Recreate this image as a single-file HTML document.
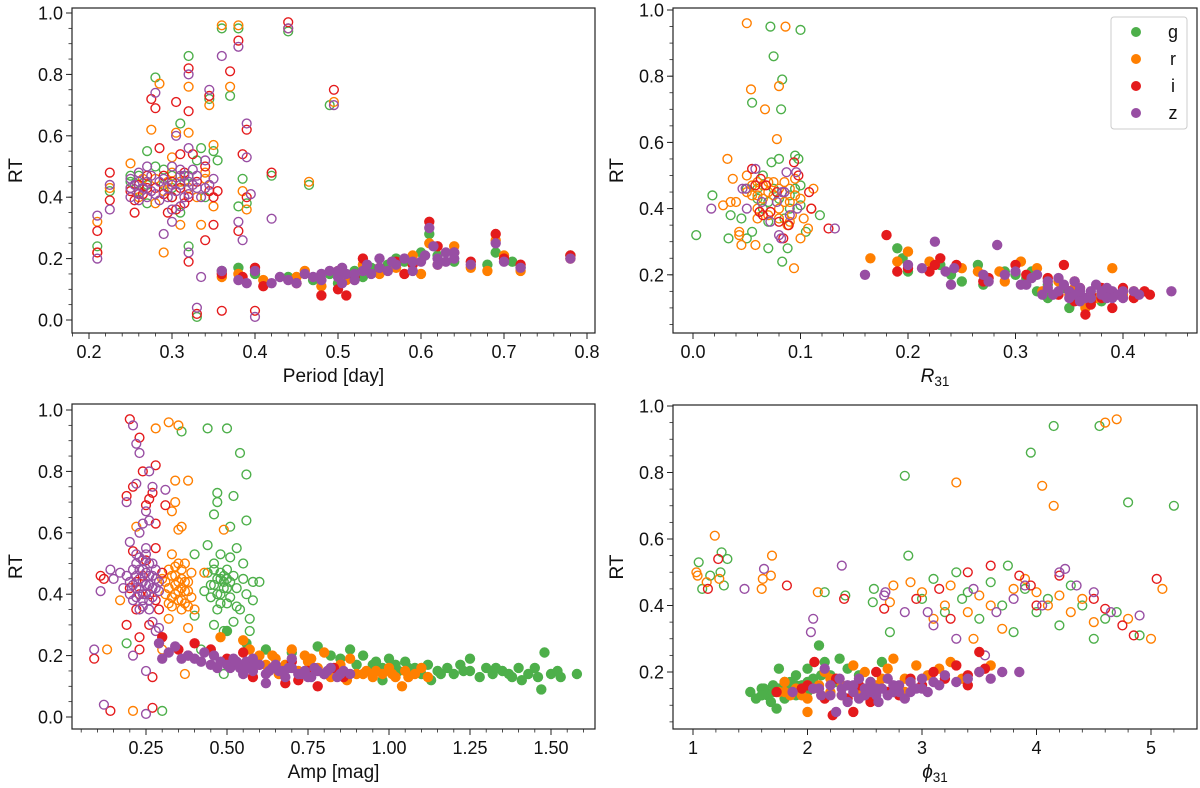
<!DOCTYPE html>
<html><head><meta charset="utf-8"><style>
html,body{margin:0;padding:0;background:#fff;}
svg{display:block;font-family:"Liberation Sans","DejaVu Sans",sans-serif;}
</style></head><body>
<svg id="fig" width="1200" height="788" viewBox="0 0 1200 788" xmlns="http://www.w3.org/2000/svg"></svg>
<script>
const bands=['g','r','i','z'];
const bandColors=['#4daf4a','#ff7f00','#e41a1c','#984ea3'];
// Panel A: Period vs RT  [x,y] pairs
const A_open_g=[[0.21,0.24],[0.225,0.42],[0.25,0.45],[0.26,0.42],[0.27,0.55],[0.28,0.79],[0.28,0.5],[0.29,0.44],[0.30,0.47],[0.31,0.64],[0.32,0.86],[0.32,0.24],[0.33,0.52],[0.335,0.56],[0.345,0.72],[0.36,0.95],[0.37,0.73],[0.38,0.95],[0.38,0.37],[0.385,0.46],[0.39,0.38],[0.42,0.47],[0.44,0.94],[0.27,0.38],[0.30,0.40],[0.315,0.45],[0.33,0.01],[0.49,0.70],[0.465,0.44],[0.26,0.47],[0.35,0.55],[0.31,0.35],[0.25,0.47],[0.27,0.44],[0.29,0.49],[0.30,0.43],[0.32,0.47],[0.34,0.40],[0.355,0.52]];
const A_open_r=[[0.21,0.32],[0.21,0.22],[0.225,0.43],[0.25,0.51],[0.26,0.40],[0.275,0.62],[0.285,0.77],[0.29,0.22],[0.295,0.45],[0.305,0.61],[0.32,0.61],[0.32,0.76],[0.345,0.70],[0.35,0.57],[0.36,0.96],[0.37,0.76],[0.38,0.96],[0.385,0.42],[0.39,0.36],[0.44,0.95],[0.27,0.45],[0.31,0.31],[0.335,0.31],[0.465,0.45],[0.30,0.48],[0.34,0.48],[0.495,0.71],[0.28,0.38],[0.25,0.43],[0.265,0.46],[0.28,0.46],[0.29,0.42],[0.31,0.45],[0.32,0.43],[0.33,0.40],[0.34,0.46],[0.35,0.37],[0.30,0.53]];
const A_open_i=[[0.21,0.29],[0.21,0.22],[0.225,0.48],[0.225,0.39],[0.255,0.35],[0.275,0.72],[0.28,0.69],[0.285,0.56],[0.295,0.35],[0.305,0.71],[0.31,0.54],[0.32,0.68],[0.32,0.82],[0.32,0.19],[0.325,0.54],[0.34,0.26],[0.345,0.73],[0.35,0.31],[0.355,0.42],[0.36,0.03],[0.37,0.81],[0.38,0.91],[0.385,0.54],[0.39,0.62],[0.39,0.40],[0.38,0.29],[0.33,0.02],[0.40,0.03],[0.42,0.48],[0.44,0.97],[0.495,0.75],[0.27,0.43],[0.30,0.40],[0.315,0.38],[0.265,0.41],[0.29,0.47],[0.25,0.42],[0.26,0.44],[0.27,0.47],[0.28,0.43],[0.29,0.41],[0.30,0.45],[0.31,0.43],[0.315,0.48],[0.32,0.40],[0.33,0.45],[0.34,0.50],[0.345,0.42],[0.255,0.39],[0.305,0.36],[0.35,0.40]];
const A_open_z=[[0.21,0.34],[0.21,0.20],[0.225,0.44],[0.225,0.36],[0.25,0.46],[0.26,0.41],[0.27,0.50],[0.28,0.74],[0.285,0.45],[0.29,0.28],[0.30,0.32],[0.305,0.60],[0.31,0.47],[0.32,0.80],[0.32,0.56],[0.32,0.22],[0.33,0.04],[0.335,0.14],[0.345,0.75],[0.345,0.44],[0.36,0.86],[0.38,0.89],[0.38,0.32],[0.385,0.26],[0.39,0.64],[0.39,0.53],[0.395,0.41],[0.40,0.01],[0.42,0.33],[0.44,0.95],[0.495,0.70],[0.26,0.39],[0.275,0.42],[0.295,0.43],[0.31,0.44],[0.315,0.40],[0.325,0.49],[0.34,0.52],[0.35,0.46],[0.27,0.45],[0.30,0.50],[0.33,0.43],[0.25,0.40],[0.255,0.44],[0.26,0.45],[0.265,0.43],[0.27,0.40],[0.275,0.47],[0.28,0.41],[0.285,0.39],[0.29,0.46],[0.295,0.40],[0.30,0.44],[0.305,0.42],[0.31,0.49],[0.315,0.47],[0.32,0.45],[0.32,0.41],[0.325,0.44],[0.33,0.47],[0.335,0.40],[0.34,0.43],[0.25,0.43],[0.26,0.48],[0.30,0.36],[0.31,0.37]];
const A_fill_g=[[0.36,0.16],[0.38,0.17],[0.40,0.15],[0.44,0.14],[0.47,0.13],[0.49,0.15],[0.50,0.12],[0.52,0.16],[0.54,0.17],[0.56,0.18],[0.58,0.19],[0.60,0.22],[0.61,0.28],[0.62,0.21],[0.64,0.19],[0.68,0.18],[0.69,0.22],[0.71,0.19],[0.72,0.17],[0.78,0.21],[0.53,0.14],[0.57,0.20]];
const A_fill_r=[[0.36,0.14],[0.38,0.15],[0.41,0.13],[0.45,0.14],[0.48,0.11],[0.50,0.16],[0.51,0.13],[0.53,0.18],[0.55,0.15],[0.57,0.17],[0.59,0.21],[0.61,0.25],[0.62,0.18],[0.64,0.24],[0.66,0.17],[0.68,0.16],[0.69,0.26],[0.70,0.21],[0.72,0.16],[0.78,0.20],[0.60,0.15],[0.46,0.16]];
const A_fill_i=[[0.36,0.15],[0.385,0.14],[0.40,0.17],[0.41,0.11],[0.45,0.12],[0.48,0.08],[0.50,0.10],[0.51,0.08],[0.52,0.14],[0.55,0.17],[0.57,0.19],[0.59,0.18],[0.61,0.32],[0.62,0.24],[0.64,0.22],[0.66,0.19],[0.69,0.28],[0.70,0.20],[0.72,0.18],[0.78,0.21],[0.53,0.20],[0.58,0.15]];
const A_fill_z=[[0.36,0.16],[0.38,0.13],[0.39,0.12],[0.40,0.16],[0.42,0.12],[0.44,0.13],[0.46,0.15],[0.48,0.13],[0.49,0.16],[0.50,0.14],[0.51,0.15],[0.52,0.13],[0.53,0.16],[0.54,0.15],[0.55,0.17],[0.57,0.18],[0.58,0.20],[0.59,0.16],[0.60,0.19],[0.61,0.30],[0.62,0.20],[0.63,0.22],[0.64,0.20],[0.66,0.18],[0.69,0.25],[0.70,0.19],[0.72,0.17],[0.78,0.20],[0.47,0.14],[0.505,0.12],[0.43,0.14],[0.45,0.12],[0.48,0.15],[0.50,0.16],[0.52,0.15],[0.535,0.18],[0.56,0.16],[0.565,0.19],[0.59,0.19],[0.605,0.21],[0.615,0.24],[0.62,0.18],[0.63,0.19],[0.64,0.22],[0.505,0.17],[0.55,0.20]];
// Panel B: R31 vs RT
const B_open_g=[[0.003,0.32],[0.018,0.44],[0.033,0.31],[0.035,0.38],[0.045,0.37],[0.05,0.31],[0.055,0.72],[0.055,0.33],[0.07,0.28],[0.072,0.95],[0.075,0.86],[0.083,0.79],[0.082,0.70],[0.083,0.24],[0.088,0.28],[0.095,0.56],[0.098,0.55],[0.10,0.94],[0.10,0.47],[0.105,0.33],[0.118,0.38],[0.073,0.54],[0.065,0.50],[0.08,0.55],[0.06,0.43],[0.07,0.42],[0.09,0.44],[0.05,0.46],[0.06,0.46],[0.065,0.40],[0.075,0.46],[0.08,0.43],[0.085,0.37],[0.09,0.40],[0.095,0.46],[0.1,0.41],[0.07,0.36]];
const B_open_r=[[0.028,0.41],[0.032,0.55],[0.035,0.42],[0.037,0.49],[0.04,0.42],[0.043,0.33],[0.043,0.32],[0.045,0.29],[0.05,0.50],[0.05,0.96],[0.054,0.76],[0.058,0.29],[0.06,0.37],[0.067,0.70],[0.078,0.61],[0.08,0.77],[0.086,0.95],[0.088,0.35],[0.094,0.22],[0.095,0.49],[0.10,0.31],[0.103,0.37],[0.107,0.34],[0.112,0.46],[0.11,0.40],[0.065,0.47],[0.07,0.45],[0.075,0.48],[0.085,0.42],[0.09,0.46],[0.055,0.44],[0.06,0.48],[0.08,0.40],[0.092,0.38],[0.05,0.45],[0.055,0.47],[0.06,0.44],[0.065,0.43],[0.07,0.48],[0.075,0.44],[0.08,0.46],[0.085,0.48],[0.09,0.42],[0.095,0.44],[0.06,0.40],[0.07,0.38],[0.08,0.37],[0.09,0.36],[0.1,0.43]];
const B_open_i=[[0.055,0.52],[0.058,0.47],[0.062,0.39],[0.063,0.49],[0.065,0.38],[0.068,0.47],[0.072,0.39],[0.078,0.45],[0.08,0.36],[0.084,0.31],[0.089,0.35],[0.094,0.54],[0.098,0.50],[0.108,0.45],[0.11,0.40],[0.126,0.34]];
const B_open_z=[[0.017,0.40],[0.046,0.46],[0.049,0.46],[0.05,0.40],[0.058,0.52],[0.064,0.42],[0.072,0.36],[0.078,0.42],[0.08,0.32],[0.082,0.31],[0.085,0.45],[0.087,0.51],[0.09,0.38],[0.096,0.51],[0.097,0.40],[0.132,0.34],[0.083,0.45]];
const B_fill_g=[[0.19,0.28],[0.195,0.25],[0.2,0.21],[0.23,0.23],[0.24,0.20],[0.25,0.18],[0.265,0.23],[0.27,0.17],[0.29,0.21],[0.31,0.19],[0.315,0.21],[0.32,0.15],[0.33,0.17],[0.345,0.16],[0.35,0.10],[0.36,0.13],[0.37,0.14],[0.38,0.12],[0.33,0.13],[0.30,0.20]];
const B_fill_r=[[0.165,0.25],[0.19,0.24],[0.2,0.27],[0.22,0.24],[0.25,0.22],[0.265,0.21],[0.285,0.21],[0.29,0.18],[0.305,0.24],[0.32,0.22],[0.325,0.15],[0.34,0.18],[0.355,0.16],[0.365,0.10],[0.375,0.13],[0.385,0.15],[0.39,0.22],[0.40,0.14],[0.41,0.15],[0.35,0.14]];
const B_fill_i=[[0.18,0.32],[0.19,0.21],[0.2,0.22],[0.225,0.23],[0.22,0.21],[0.23,0.25],[0.245,0.23],[0.27,0.18],[0.275,0.19],[0.30,0.23],[0.31,0.20],[0.33,0.19],[0.345,0.23],[0.355,0.18],[0.36,0.14],[0.365,0.08],[0.37,0.12],[0.38,0.16],[0.39,0.10],[0.40,0.16],[0.41,0.13],[0.42,0.15],[0.425,0.14],[0.35,0.15],[0.34,0.14],[0.36,0.16],[0.37,0.14],[0.38,0.13],[0.39,0.14],[0.37,0.11],[0.355,0.12]];
const B_fill_z=[[0.16,0.20],[0.2,0.23],[0.213,0.22],[0.225,0.30],[0.235,0.21],[0.24,0.17],[0.243,0.22],[0.27,0.20],[0.275,0.18],[0.283,0.29],[0.29,0.20],[0.30,0.21],[0.305,0.17],[0.315,0.19],[0.32,0.20],[0.325,0.14],[0.33,0.18],[0.335,0.14],[0.34,0.19],[0.345,0.17],[0.35,0.15],[0.355,0.14],[0.36,0.16],[0.365,0.13],[0.37,0.15],[0.375,0.17],[0.38,0.14],[0.385,0.16],[0.39,0.15],[0.395,0.14],[0.40,0.13],[0.41,0.15],[0.415,0.14],[0.445,0.15],[0.355,0.18],[0.31,0.17],[0.33,0.16],[0.34,0.15],[0.35,0.13],[0.36,0.15],[0.37,0.13],[0.38,0.15],[0.39,0.13],[0.40,0.15],[0.36,0.12],[0.385,0.13]];
// Panel C: Amp vs RT
const C_open_g=[[0.19,0.24],[0.30,0.02],[0.36,0.93],[0.40,0.53],[0.40,0.33],[0.42,0.22],[0.44,0.94],[0.44,0.56],[0.45,0.43],[0.45,0.39],[0.46,0.30],[0.46,0.66],[0.47,0.73],[0.47,0.70],[0.48,0.53],[0.48,0.45],[0.48,0.40],[0.49,0.28],[0.49,0.14],[0.50,0.94],[0.50,0.48],[0.50,0.37],[0.51,0.62],[0.51,0.44],[0.52,0.31],[0.52,0.72],[0.53,0.55],[0.53,0.42],[0.54,0.86],[0.54,0.35],[0.55,0.50],[0.55,0.45],[0.56,0.79],[0.56,0.64],[0.56,0.40],[0.57,0.28],[0.57,0.32],[0.58,0.44],[0.58,0.38],[0.60,0.44],[0.44,0.47],[0.46,0.48],[0.47,0.35],[0.49,0.42],[0.51,0.52],[0.53,0.36],[0.43,0.41],[0.52,0.46],[0.46,0.43],[0.47,0.45],[0.48,0.47],[0.49,0.44],[0.50,0.42],[0.47,0.40],[0.48,0.37],[0.50,0.45],[0.46,0.50],[0.51,0.39],[0.49,0.46]];
const C_open_r=[[0.13,0.22],[0.17,0.38],[0.21,0.02],[0.22,0.62],[0.28,0.94],[0.30,0.22],[0.32,0.96],[0.33,0.67],[0.34,0.77],[0.34,0.70],[0.35,0.95],[0.35,0.61],[0.36,0.62],[0.37,0.14],[0.38,0.29],[0.38,0.77],[0.40,0.35],[0.43,0.47],[0.49,0.61],[0.30,0.45],[0.31,0.40],[0.32,0.48],[0.33,0.36],[0.34,0.43],[0.35,0.50],[0.35,0.38],[0.36,0.45],[0.37,0.41],[0.37,0.50],[0.38,0.44],[0.39,0.39],[0.39,0.47],[0.33,0.53],[0.36,0.35],[0.32,0.32],[0.34,0.46],[0.36,0.42],[0.38,0.36],[0.31,0.44],[0.32,0.42],[0.33,0.46],[0.34,0.40],[0.35,0.44],[0.36,0.48],[0.37,0.44],[0.38,0.41],[0.33,0.39],[0.35,0.41],[0.36,0.38],[0.37,0.37],[0.34,0.49],[0.32,0.37]];
const C_open_i=[[0.09,0.19],[0.11,0.46],[0.12,0.45],[0.14,0.02],[0.19,0.30],[0.19,0.72],[0.20,0.97],[0.21,0.75],[0.21,0.54],[0.22,0.35],[0.23,0.22],[0.23,0.91],[0.23,0.26],[0.24,0.80],[0.25,0.69],[0.26,0.71],[0.27,0.73],[0.27,0.13],[0.27,0.03],[0.28,0.63],[0.28,0.82],[0.28,0.55],[0.30,0.47],[0.31,0.69],[0.26,0.30],[0.20,0.42],[0.22,0.44],[0.24,0.46],[0.26,0.40],[0.28,0.38],[0.29,0.35],[0.25,0.51],[0.23,0.40]];
const C_open_z=[[0.09,0.22],[0.12,0.04],[0.11,0.41],[0.14,0.48],[0.15,0.45],[0.17,0.47],[0.18,0.42],[0.19,0.70],[0.20,0.57],[0.21,0.20],[0.21,0.95],[0.22,0.89],[0.22,0.76],[0.23,0.86],[0.23,0.60],[0.24,0.63],[0.25,0.67],[0.25,0.15],[0.25,0.01],[0.26,0.80],[0.26,0.64],[0.27,0.75],[0.27,0.31],[0.28,0.28],[0.29,0.29],[0.31,0.74],[0.20,0.44],[0.21,0.48],[0.22,0.42],[0.22,0.50],[0.23,0.45],[0.23,0.52],[0.24,0.40],[0.24,0.48],[0.25,0.43],[0.25,0.53],[0.26,0.46],[0.26,0.38],[0.27,0.50],[0.27,0.42],[0.28,0.45],[0.29,0.41],[0.24,0.36],[0.21,0.38],[0.19,0.46],[0.20,0.40],[0.21,0.43],[0.22,0.46],[0.22,0.39],[0.23,0.48],[0.23,0.42],[0.24,0.44],[0.24,0.51],[0.25,0.47],[0.25,0.40],[0.26,0.43],[0.26,0.50],[0.27,0.46],[0.27,0.39],[0.28,0.48],[0.28,0.42],[0.29,0.44],[0.24,0.38],[0.26,0.35],[0.23,0.35],[0.25,0.55],[0.22,0.53]];
const C_fill_g=[[0.50,0.28],[0.56,0.24],[0.62,0.22],[0.70,0.21],[0.78,0.23],[0.85,0.19],[0.88,0.22],[0.92,0.20],[0.95,0.17],[0.98,0.16],[1.00,0.19],[1.03,0.15],[1.05,0.18],[1.08,0.16],[1.10,0.14],[1.12,0.17],[1.15,0.15],[1.18,0.16],[1.20,0.14],[1.22,0.17],[1.25,0.15],[1.28,0.13],[1.30,0.16],[1.32,0.14],[1.35,0.15],[1.38,0.13],[1.40,0.16],[1.43,0.14],[1.45,0.16],[1.47,0.09],[1.48,0.21],[1.50,0.14],[1.52,0.15],[1.58,0.14],[1.13,0.12],[1.25,0.19],[1.41,0.12],[0.98,0.12],[0.90,0.17],[0.96,0.18],[1.06,0.16],[1.16,0.14],[1.23,0.15],[1.33,0.16],[1.37,0.14],[1.46,0.13],[1.53,0.13],[1.02,0.17],[0.82,0.20]];
const C_fill_r=[[0.48,0.26],[0.55,0.25],[0.60,0.20],[0.65,0.19],[0.70,0.22],[0.75,0.18],[0.80,0.21],[0.85,0.17],[0.88,0.19],[0.90,0.14],[0.93,0.15],[0.95,0.13],[0.98,0.14],[1.00,0.16],[1.02,0.13],[1.04,0.10],[1.05,0.15],[1.08,0.14],[1.10,0.16],[1.12,0.13],[0.78,0.16],[0.72,0.15],[0.82,0.13],[0.62,0.17],[0.87,0.12],[0.57,0.22],[0.64,0.20],[0.68,0.17],[0.76,0.19],[0.84,0.15],[0.92,0.14],[0.96,0.15],[1.01,0.14],[1.06,0.13],[0.66,0.14],[0.74,0.20]];
const C_fill_i=[[0.30,0.26],[0.35,0.22],[0.38,0.20],[0.40,0.24],[0.45,0.22],[0.50,0.19],[0.55,0.21],[0.60,0.17],[0.65,0.16],[0.68,0.11],[0.70,0.18],[0.75,0.15],[0.78,0.10],[0.80,0.14],[0.83,0.16],[0.86,0.13],[0.58,0.13],[0.72,0.12]];
const C_fill_z=[[0.29,0.24],[0.30,0.19],[0.34,0.23],[0.36,0.19],[0.40,0.19],[0.43,0.21],[0.46,0.20],[0.48,0.18],[0.50,0.17],[0.52,0.19],[0.54,0.16],[0.56,0.18],[0.58,0.15],[0.60,0.17],[0.62,0.14],[0.64,0.16],[0.66,0.15],[0.68,0.13],[0.70,0.16],[0.72,0.14],[0.74,0.15],[0.76,0.13],[0.78,0.15],[0.80,0.14],[0.82,0.16],[0.84,0.13],[0.86,0.15],[0.88,0.14],[0.62,0.11],[0.55,0.14],[0.45,0.17],[0.70,0.19],[0.32,0.21],[0.38,0.20],[0.42,0.18],[0.47,0.16],[0.51,0.16],[0.53,0.18],[0.57,0.16],[0.59,0.17],[0.63,0.15],[0.67,0.15],[0.69,0.16],[0.73,0.14],[0.77,0.16],[0.81,0.15],[0.85,0.14],[0.65,0.17],[0.75,0.13],[0.58,0.19]];
// Panel D: phi31 vs RT
const D_open_g=[[1.05,0.53],[1.08,0.45],[1.15,0.49],[1.25,0.56],[1.24,0.50],[1.30,0.54],[1.27,0.46],[2.15,0.44],[2.33,0.43],[2.58,0.45],[2.57,0.41],[2.72,0.32],[2.85,0.79],[2.88,0.55],[3.0,0.42],[3.1,0.48],[3.2,0.38],[3.3,0.50],[3.4,0.44],[3.5,0.36],[3.6,0.47],[3.7,0.40],[3.8,0.32],[3.9,0.45],[3.95,0.86],[4.0,0.38],[4.1,0.42],[4.15,0.94],[4.2,0.34],[4.3,0.46],[4.4,0.40],[4.5,0.30],[4.55,0.94],[4.6,0.36],[4.7,0.38],[4.8,0.71],[4.9,0.31],[5.2,0.70],[3.35,0.42],[3.75,0.52]];
const D_open_r=[[1.03,0.50],[1.04,0.49],[1.12,0.47],[1.19,0.61],[1.23,0.48],[1.60,0.45],[1.61,0.48],[1.69,0.55],[1.68,0.49],[2.09,0.44],[2.75,0.46],[2.72,0.41],[2.9,0.47],[3.0,0.44],[3.1,0.36],[3.2,0.40],[3.3,0.77],[3.4,0.38],[3.5,0.43],[3.6,0.40],[3.7,0.33],[3.8,0.45],[3.9,0.48],[4.0,0.44],[4.05,0.76],[4.1,0.40],[4.15,0.70],[4.2,0.43],[4.3,0.38],[4.5,0.35],[4.6,0.95],[4.7,0.96],[4.8,0.36],[5.0,0.30],[5.1,0.45],[4.4,0.42],[3.25,0.46],[3.45,0.30]];
const D_open_i=[[1.13,0.45],[1.22,0.54],[1.82,0.46],[2.32,0.42],[2.67,0.39],[2.95,0.42],[3.15,0.45],[3.4,0.50],[3.6,0.52],[3.85,0.49],[3.95,0.46],[4.2,0.49],[4.5,0.42],[4.6,0.39],[4.75,0.34],[4.85,0.31],[5.05,0.48],[3.25,0.36],[4.0,0.40]];
const D_open_z=[[1.45,0.45],[1.62,0.51],[2.03,0.32],[2.05,0.36],[2.30,0.52],[2.67,0.43],[2.68,0.44],[2.85,0.38],[3.05,0.38],[3.1,0.34],[3.3,0.30],[3.45,0.45],[3.65,0.38],[3.8,0.42],[3.9,0.46],[4.05,0.40],[4.2,0.50],[4.35,0.46],[4.5,0.44],[4.65,0.38],[4.9,0.37],[3.55,0.25],[4.25,0.51]];
const D_fill_g=[[1.5,0.14],[1.55,0.12],[1.6,0.15],[1.65,0.13],[1.7,0.16],[1.73,0.09],[1.75,0.21],[1.8,0.17],[1.85,0.14],[1.9,0.19],[1.95,0.16],[2.0,0.21],[2.05,0.18],[2.1,0.28],[2.15,0.23],[2.2,0.19],[2.28,0.24],[2.35,0.21],[2.45,0.19],[2.55,0.17],[2.65,0.23],[1.8,0.12],[2.0,0.14],[1.9,0.13],[2.25,0.17],[1.62,0.15],[1.6,0.13],[1.7,0.14],[1.75,0.15],[1.85,0.17],[1.95,0.14],[2.0,0.17],[2.05,0.15],[1.8,0.15],[1.68,0.11],[2.12,0.19],[1.9,0.16]];
const D_fill_r=[[1.75,0.14],[1.8,0.17],[1.9,0.15],[2.0,0.08],[2.0,0.12],[2.05,0.15],[2.15,0.20],[2.2,0.14],[2.3,0.16],[2.4,0.22],[2.5,0.20],[2.6,0.16],[2.7,0.21],[2.75,0.24],[2.85,0.18],[2.95,0.22],[3.05,0.19],[3.15,0.21],[3.25,0.23],[3.35,0.18],[3.5,0.20],[3.6,0.22],[2.85,0.14],[1.85,0.13],[1.8,0.14],[1.95,0.13],[2.1,0.16],[2.2,0.18],[2.3,0.13],[2.45,0.15],[2.55,0.16],[2.65,0.18],[2.9,0.17],[2.0,0.16]];
const D_fill_i=[[1.73,0.14],[1.95,0.15],[2.0,0.16],[2.06,0.23],[2.15,0.12],[2.22,0.07],[2.25,0.18],[2.35,0.12],[2.45,0.16],[2.55,0.11],[2.6,0.20],[2.7,0.14],[2.8,0.13],[2.9,0.18],[3.0,0.16],[3.1,0.20],[3.2,0.18],[3.3,0.22],[3.4,0.19],[3.5,0.26],[3.55,0.21],[3.4,0.16],[2.4,0.08]];
const D_fill_z=[[1.87,0.14],[2.05,0.15],[2.12,0.13],[2.15,0.21],[2.2,0.16],[2.25,0.08],[2.3,0.13],[2.35,0.16],[2.4,0.14],[2.45,0.12],[2.5,0.15],[2.55,0.17],[2.6,0.13],[2.65,0.15],[2.7,0.18],[2.75,0.14],[2.8,0.16],[2.85,0.12],[2.9,0.17],[2.95,0.15],[3.0,0.18],[3.05,0.14],[3.1,0.17],[3.15,0.16],[3.2,0.19],[3.3,0.17],[3.4,0.18],[3.5,0.20],[3.6,0.18],[3.7,0.20],[3.85,0.20],[2.62,0.11],[2.28,0.18],[2.1,0.15],[2.2,0.13],[2.3,0.15],[2.4,0.16],[2.5,0.13],[2.6,0.15],[2.7,0.13],[2.8,0.14],[2.9,0.14],[3.0,0.15],[2.45,0.18],[2.55,0.14],[2.35,0.11],[2.75,0.16]];
const A_xticks=[0.2,0.3,0.4,0.5,0.6,0.7,0.8];
const B_xticks=[0.0,0.1,0.2,0.3,0.4];
const C_xticks=[0.25,0.50,0.75,1.00,1.25,1.50];
const D_xticks=[1,2,3,4,5];
const A_yticks=[0.0,0.2,0.4,0.6,0.8,1.0];
const B_yticks=[0.2,0.4,0.6,0.8,1.0];
const D_yticks=[0.2,0.4,0.6,0.8,1.0];

const NS='http://www.w3.org/2000/svg';
const svg=document.getElementById('fig');
function mk(tag,attrs,parent){const e=document.createElementNS(NS,tag);for(const k in attrs)e.setAttribute(k,attrs[k]);(parent||svg).appendChild(e);return e;}

const panels=[
 {id:'period',box:[72,8,595,333],px0:89,py0:320,ky:307,xmin:0.18,xmax:0.82,xminor:0.02,yminor:0.05,xt:A_xticks,yt:A_yticks,xdec:1,open:[A_open_g,A_open_r,A_open_i,A_open_z],fill:[A_fill_g,A_fill_r,A_fill_i,A_fill_z],xlabel:'Period [day]'},
 {id:'r31',box:[673,8,1197,333],px0:693,py0:10,ky:331,xmin:-0.02,xmax:0.47,xminor:0.02,yminor:0.05,xt:B_xticks,yt:B_yticks,xdec:1,open:[B_open_g,B_open_r,B_open_i,B_open_z],fill:[B_fill_g,B_fill_r,B_fill_i,B_fill_z],xlabel:'R31'},
 {id:'amp',box:[72,404,595,729],px0:146,py0:717,ky:307,xmin:0.05,xmax:1.65,xminor:0.05,yminor:0.05,xt:C_xticks,yt:A_yticks,xdec:2,open:[C_open_g,C_open_r,C_open_i,C_open_z],fill:[C_fill_g,C_fill_r,C_fill_i,C_fill_z],xlabel:'Amp [mag]'},
 {id:'phi31',box:[673,405,1197,729],px0:693,py0:406,ky:332.5,xmin:0.85,xmax:5.4,xminor:0.2,yminor:0.05,xt:D_xticks,yt:D_yticks,xdec:0,open:[D_open_g,D_open_r,D_open_i,D_open_z],fill:[D_fill_g,D_fill_r,D_fill_i,D_fill_z],xlabel:'phi31'}
];

panels.forEach(p=>{
 const SX=p.id==='period'?(v=>p.px0+(v-0.2)*830):p.id==='r31'?(v=>p.px0+v*1075):p.id==='amp'?(v=>p.px0+(v-0.25)*324):(v=>p.px0+(v-1)*114.5);
 const SY=p.id==='period'||p.id==='amp'?(v=>p.py0-v*p.ky):(v=>p.py0+(1-v)*p.ky);
 const [L,T,R,B]=p.box;
 const g=mk('g',{});
 
 
 const cid='clip-'+p.id;
 const cp=mk('clipPath',{id:cid},g);mk('rect',{x:L,y:T,width:R-L,height:B-T},cp);
 const marks=mk('g',{'clip-path':'url(#'+cid+')'},g);
 for(let b=0;b<4;b++){
  const col=bandColors[b];
  p.open[b].forEach(d=>{
   const c=mk('circle',{cx:SX(d[0]).toFixed(1),cy:SY(d[1]).toFixed(1),r:4.4,fill:'none',stroke:col,'stroke-width':1.4},marks);
   
   
  });
 }
 for(let b=0;b<4;b++){
  const col=bandColors[b];
  p.fill[b].forEach(d=>{
   const c=mk('circle',{cx:SX(d[0]).toFixed(1),cy:SY(d[1]).toFixed(1),r:5.2,fill:col},marks);
   
   
  });
 }
 const fr=mk('rect',{x:L,y:T,width:R-L,height:B-T,fill:'none',stroke:'#222','stroke-width':1.2},g);
 
 
 for(let v=Math.ceil(p.xmin/p.xminor)*p.xminor; v<=p.xmax; v+=p.xminor){
  const X=SX(v); if(X<L||X>R) continue;
  mk('line',{x1:X,y1:B,x2:X,y2:B+3.5,stroke:'#222','stroke-width':0.8},g);
 }
 p.xt.forEach(v=>{
  const X=SX(v);
  mk('line',{x1:X,y1:B,x2:X,y2:B+6,stroke:'#222','stroke-width':1},g);
  const t=mk('text',{x:X,y:B+25,'font-size':18,'text-anchor':'middle',fill:'#111'},g);
  t.textContent=v.toFixed(p.xdec);
  
  
 });
 for(let v=0; v<=1.0001; v+=p.yminor){
  const Y=SY(v); if(Y<T||Y>B) continue;
  mk('line',{x1:L,y1:Y,x2:L-3.5,y2:Y,stroke:'#222','stroke-width':0.8},g);
 }
 p.yt.forEach(v=>{
  const Y=SY(v);
  mk('line',{x1:L,y1:Y,x2:L-6,y2:Y,stroke:'#222','stroke-width':1},g);
  const t=mk('text',{x:L-9,y:Y+6.5,'font-size':18,'text-anchor':'end',fill:'#111'},g);
  t.textContent=v.toFixed(1);
  
  
 });
 const yl=mk('text',{x:0,y:0,'font-size':19,'text-anchor':'middle',fill:'#111',transform:'translate('+(L-50)+','+((T+B)/2)+') rotate(-90)'},g);
 yl.textContent='RT';
 
 
 const cx=(L+R)/2;
 const xl=mk('text',{x:cx,y:B+49,'font-size':19,'text-anchor':'middle',fill:'#111'},g);
 
 
 if(p.id==='r31'||p.id==='phi31'){
  const m=mk('tspan',{'font-style':'italic'},xl); m.textContent=p.id==='r31'?'R':'\u03d5';
  const s=mk('tspan',{'font-size':13.5,dy:4},xl); s.textContent='31';
 } else xl.textContent=p.xlabel;
});

const lg=mk('g',{});


mk('rect',{x:1111,y:17,width:76,height:112,rx:3,fill:'#fff','fill-opacity':0.85,stroke:'#ccc','stroke-width':1},lg);
bands.forEach((b,k)=>{
 const y=32+k*27;
 const e=mk('g',{},lg);
 
 
 mk('circle',{cx:1136,cy:y,r:5,fill:bandColors[k]},e);
 const t=mk('text',{x:1173,y:y+6,'font-size':18,'text-anchor':'middle',fill:'#111'},e);
 t.textContent=b;
});
</script>
</body></html>
